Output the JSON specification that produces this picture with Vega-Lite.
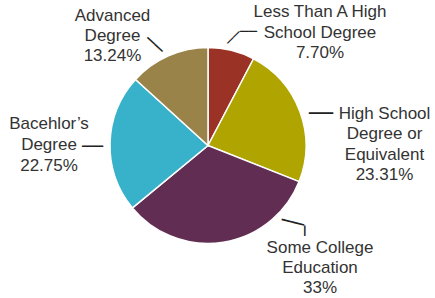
{
  "$schema": "https://vega.github.io/schema/vega-lite/v6.json",
  "width": 416,
  "height": 291,
  "autosize": {"type": "none"},
  "padding": {"left": 0, "top": 0, "right": 19, "bottom": 7},
  "background": "white",
  "config": {"view": {"stroke": null}},
  "data": {
    "values": [
      {"category": "Less Than A High School Degree", "label": "Less Than A High\nSchool Degree\n7.70%", "value": 7.70, "idx": 1},
      {"category": "High School Degree or Equivalent", "label": "High School\nDegree or\nEquivalent\n23.31%", "value": 23.31, "idx": 2},
      {"category": "Some College Education", "label": "Some College\nEducation\n33%", "value": 33, "idx": 3},
      {"category": "Bacehlor’s Degree", "label": "Bacehlor’s\nDegree\n22.75%", "value": 22.75, "idx": 4},
      {"category": "Advanced Degree", "label": "Advanced\nDegree\n13.24%", "value": 13.24, "idx": 5}
    ]
  },
  "encoding": {
    "theta": {"field": "value", "type": "quantitative", "stack": true},
    "order": {"field": "idx", "type": "quantitative"}
  },
  "layer": [
    {
      "mark": {"type": "arc", "outerRadius": 98, "stroke": "white", "strokeWidth": 1.5},
      "encoding": {
        "color": {
          "field": "category", "type": "nominal", "legend": null,
          "scale": {
            "domain": ["Less Than A High School Degree", "High School Degree or Equivalent", "Some College Education", "Bacehlor’s Degree", "Advanced Degree"],
            "range": ["#9b3226", "#b0a500", "#612d52", "#38b1ca", "#9a8349"]
          }
        }
      }
    },
    {
      "mark": {"type": "text", "radius": 150, "dx": 76.06, "dy": 4.44, "align": "center", "baseline": "top", "font": "Liberation Sans", "fontSize": 17, "lineHeight": 20.5, "lineBreak": "\n", "color": "#333333"},
      "encoding": {"text": {"condition": {"test": "datum.idx == 1", "field": "label"}, "value": ""}}
    },
    {
      "mark": {"type": "text", "radius": 170, "dx": 17.07, "dy": 19.54, "align": "center", "baseline": "top", "font": "Liberation Sans", "fontSize": 17, "lineHeight": 20.5, "lineBreak": "\n", "color": "#333333"},
      "encoding": {"text": {"condition": {"test": "datum.idx == 2", "field": "label"}, "value": ""}}
    },
    {
      "mark": {"type": "text", "radius": 100, "dx": 96.43, "dy": -3.98, "align": "center", "baseline": "top", "font": "Liberation Sans", "fontSize": 17, "lineHeight": 20, "lineBreak": "\n", "color": "#333333"},
      "encoding": {"text": {"condition": {"test": "datum.idx == 3", "field": "label"}, "value": ""}}
    },
    {
      "mark": {"type": "text", "radius": 150, "dx": -9.04, "dy": -25.55, "align": "center", "baseline": "top", "font": "Liberation Sans", "fontSize": 17, "lineHeight": 20.8, "lineBreak": "\n", "color": "#333333"},
      "encoding": {"text": {"condition": {"test": "datum.idx == 4", "field": "label"}, "value": ""}}
    },
    {
      "mark": {"type": "text", "radius": 165, "dx": -28.84, "dy": 13.13, "align": "center", "baseline": "top", "font": "Liberation Sans", "fontSize": 17, "lineHeight": 20.2, "lineBreak": "\n", "color": "#333333"},
      "encoding": {"text": {"condition": {"test": "datum.idx == 5", "field": "label"}, "value": ""}}
    },
    {
      "mark": {"type": "text", "radius": 110, "dx": 0.24, "dy": -0.75, "angle": -45, "align": "center", "baseline": "middle", "font": "DejaVu Sans", "fontSize": 14, "color": "#222222"},
      "encoding": {"text": {"condition": {"test": "datum.idx == 1", "value": "──"}, "value": ""}}
    },
    {
      "mark": {"type": "text", "radius": 120, "dx": 11.75, "dy": 3, "align": "center", "baseline": "middle", "font": "DejaVu Sans", "fontSize": 14, "color": "#222222"},
      "encoding": {"text": {"condition": {"test": "datum.idx == 1", "value": "──"}, "value": ""}}
    },
    {
      "mark": {"type": "text", "radius": 117, "dx": 3.3, "dy": 9.6, "align": "center", "baseline": "middle", "font": "DejaVu Sans", "fontSize": 20, "color": "#222222"},
      "encoding": {"text": {"condition": {"test": "datum.idx == 2", "value": "──"}, "value": ""}}
    },
    {
      "mark": {"type": "text", "radius": 114, "dx": 56.25, "dy": -50.77, "angle": 14.3, "align": "center", "baseline": "middle", "font": "DejaVu Sans", "fontSize": 19, "color": "#222222"},
      "encoding": {"text": {"condition": {"test": "datum.idx == 3", "value": "──"}, "value": ""}}
    },
    {
      "mark": {"type": "text", "radius": 100, "dx": -13.58, "dy": -80.43, "angle": 90, "align": "center", "baseline": "middle", "font": "DejaVu Sans", "fontSize": 17, "color": "#222222"},
      "encoding": {"text": {"condition": {"test": "datum.idx == 3", "value": "─"}, "value": ""}}
    },
    {
      "mark": {"type": "text", "radius": 115, "dx": -0.53, "dy": 4, "align": "center", "baseline": "middle", "font": "DejaVu Sans", "fontSize": 17.4, "color": "#222222"},
      "encoding": {"text": {"condition": {"test": "datum.idx == 4", "value": "──"}, "value": ""}}
    },
    {
      "mark": {"type": "text", "radius": 114, "dx": -2.86, "dy": 7.84, "angle": 43, "align": "center", "baseline": "middle", "font": "DejaVu Sans", "fontSize": 17, "color": "#222222"},
      "encoding": {"text": {"condition": {"test": "datum.idx == 5", "value": "──"}, "value": ""}}
    }
  ]
}
